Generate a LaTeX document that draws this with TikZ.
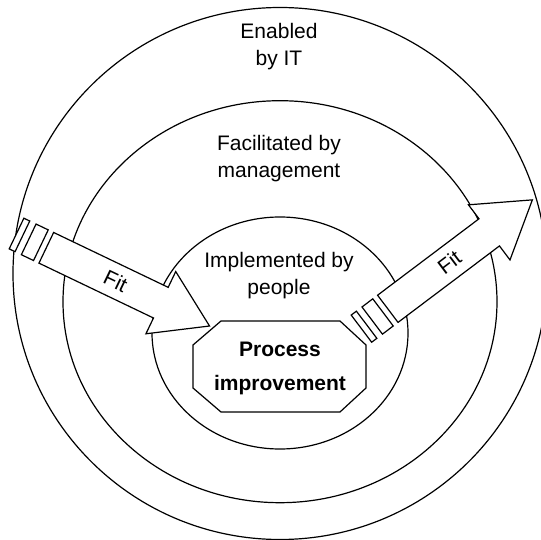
\documentclass[tikz,border=0pt]{standalone}
\usepackage{fontspec}
\setmainfont{Liberation Sans}
\begin{document}
\begin{tikzpicture}[x=1pt,y=-1pt,line width=1.2pt,line join=miter,
  lbl/.style={align=center,font=\fontsize{21}{27}\selectfont},
  boldlbl/.style={align=center,font=\fontsize{21}{34}\selectfont\bfseries},
  fitpart/.style={draw,fill=white}]
\useasboundingbox (0,0) rectangle (541,540);
\clip (0,0) rectangle (541,540);
% the three rings
\draw (280,273.5) ellipse (267 and 266);
\draw (280,301.7) ellipse (217 and 201);
\draw (280,333) ellipse (128 and 116);
\node[lbl] (it) at (279,47) {Enabled\\by IT};
\node[lbl] (mgmt) at (279,158.8) {Facilitated by\\management};
\node[lbl] (people) at (279,276) {Implemented by\\people};
% process box
\draw[fill=white] (193,345) -- (221,321) -- (340,321) -- (366,345) -- (366,388) -- (340,412) -- (221,412) -- (193,388) -- cycle;
\node[boldlbl] (proc) at (280,368.7) {Process\\improvement};
% fit arrows
\foreach \px/\py/\a/\nm in {46.3/247.8/-25.6/fitin, 387.8/308.8/37/fitout}{
  \begin{scope}[shift={(\px,\py)},rotate=\a]
  \draw[fitpart] (0,-17) -- (127,-17) -- (127,-34.5) -- (181,0) -- (127,34.5) -- (127,17) -- (0,17) -- cycle;
  \draw[fitpart] (-19.5,-17) rectangle (-6,17);
  \draw[fitpart] (-33,-17) rectangle (-26.5,17);
  \node[lbl,rotate=\a] (\nm) at (77,0) {Fit};
  \end{scope}}
\end{tikzpicture}
\end{document}
